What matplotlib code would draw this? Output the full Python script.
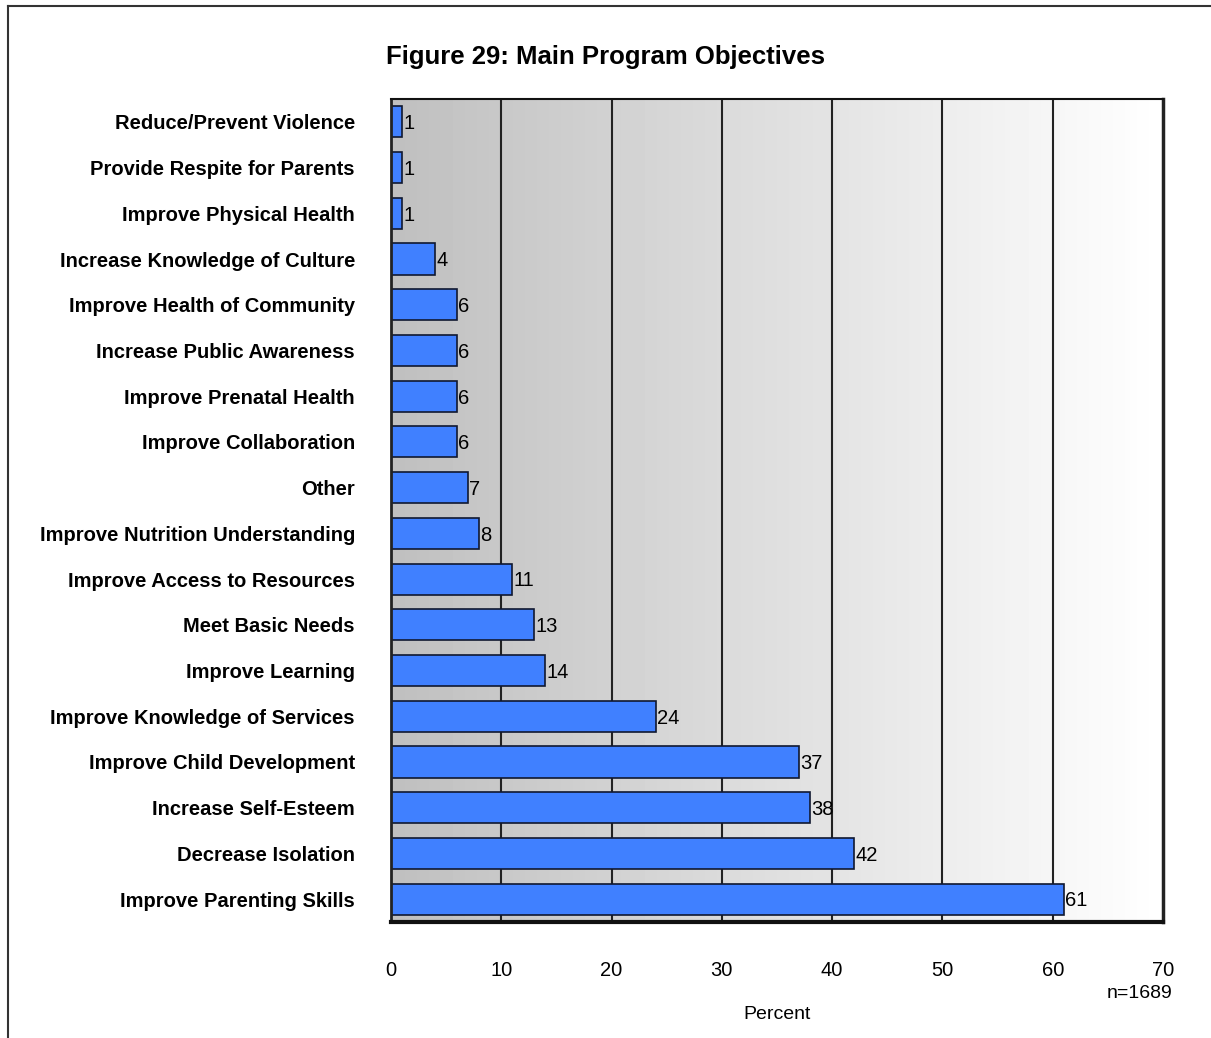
import numpy as np
import matplotlib.pyplot as plt
from matplotlib.lines import Line2D

plt.rcParams['font.family'] = ['Liberation Sans', 'DejaVu Sans']

# Objectives, listed from top of the chart to the bottom
objectives = [
    'Reduce/Prevent Violence',
    'Provide Respite for Parents',
    'Improve Physical Health',
    'Increase Knowledge of Culture',
    'Improve Health of Community',
    'Increase Public Awareness',
    'Improve Prenatal Health',
    'Improve Collaboration',
    'Other',
    'Improve Nutrition Understanding',
    'Improve Access to Resources',
    'Meet Basic Needs',
    'Improve Learning',
    'Improve Knowledge of Services',
    'Improve Child Development',
    'Increase Self-Esteem',
    'Decrease Isolation',
    'Improve Parenting Skills',
]
percent = [1, 1, 1, 4, 6, 6, 6, 6, 7, 8, 11, 13, 14, 24, 37, 38, 42, 61]
x_ticks = [0, 10, 20, 30, 40, 50, 60, 70]
sample_note = 'n=1689'

fig = plt.figure(figsize=(12.11, 10.38), dpi=100)
ax = fig.add_axes([391 / 1211, 116 / 1038, 772 / 1211, 823 / 1038])

n = len(objectives)
ypos = np.arange(n)[::-1]

# grey-to-white horizontal shading behind the bars
grad = np.linspace(0.75, 1.0, 256).reshape(1, -1)
ax.imshow(grad, cmap='gray', vmin=0, vmax=1, aspect='auto',
          extent=[0, 70, -0.5, n - 0.5], zorder=0, interpolation='bicubic')

for xv in x_ticks[1:-1]:
    ax.axvline(xv, color='#222222', lw=1.5, zorder=1)

ax.barh(ypos, percent, height=0.68, color='#4080ff', edgecolor='#101830',
        linewidth=1.2, zorder=3)
for y, v in zip(ypos, percent):
    ax.text(v + 0.1, y - 0.04, str(v), va='center', ha='left', fontsize=14.5,
            zorder=4)

ax.set_xlim(0, 70)
ax.set_ylim(-0.5, n - 0.5)
ax.set_xticks(x_ticks)
ax.set_yticks(ypos)
ax.set_yticklabels(objectives, fontsize=14.5, fontweight='bold')
ax.tick_params(axis='y', length=0, pad=26)
ax.tick_params(axis='x', length=0, pad=28, labelsize=14.5)
ax.set_xlabel('Percent', fontsize=14, labelpad=19)

for side, lw, col in [('left', 2.0, '#222222'), ('bottom', 3.0, '#111111'),
                      ('right', 2.5, '#222222'), ('top', 1.5, '#111111')]:
    ax.spines[side].set_linewidth(lw)
    ax.spines[side].set_color(col)
    ax.spines[side].set_zorder(5)

fig.text(1172 / 1211, 1 - 993 / 1038, sample_note, ha='right', va='center',
         fontsize=14)
fig.text(605 / 1211, 1 - 57 / 1038, 'Figure 29: Main Program Objectives',
         ha='center', va='center', fontsize=18.5, fontweight='bold')

# outer frame, only the top and left edges fall inside the image
fig.add_artist(Line2D([8 / 1211, 8 / 1211], [0, 1 - 6 / 1038],
                      color='#333333', lw=1.5))
fig.add_artist(Line2D([8 / 1211, 1], [1 - 6 / 1038, 1 - 6 / 1038],
                      color='#333333', lw=1.5))

fig.savefig('out.png', dpi=100)
